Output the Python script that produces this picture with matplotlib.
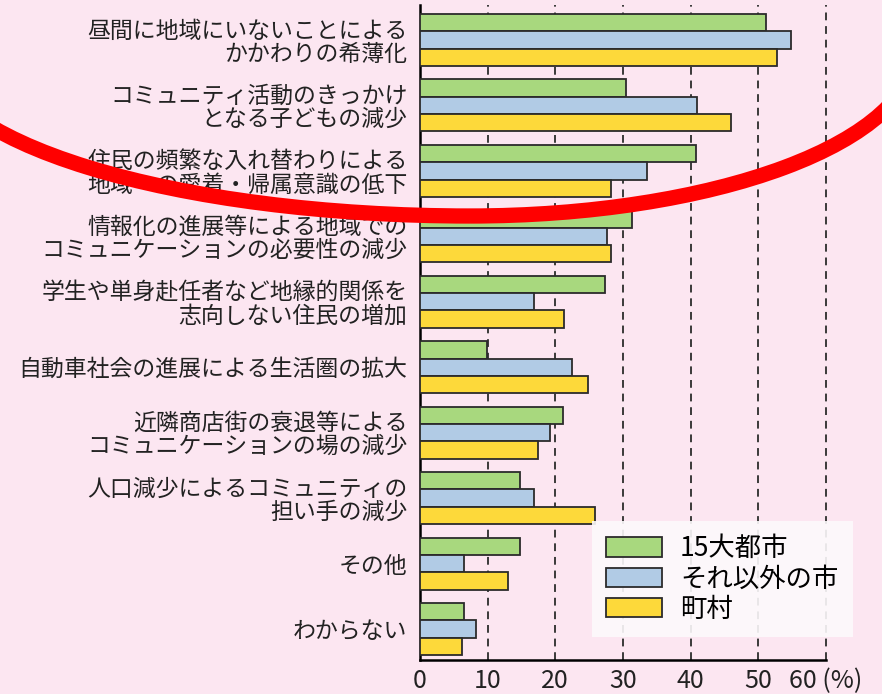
import numpy as np
import matplotlib.pyplot as plt
from matplotlib.patches import Arc

plt.rcParams['font.family'] = ['Noto Sans CJK JP', 'DejaVu Sans']

categories = [
    '昼間に地域にいないことによる\nかかわりの希薄化',
    'コミュニティ活動のきっかけ\nとなる子どもの減少',
    '住民の頻繁な入れ替わりによる\n地域への愛着・帰属意識の低下',
    '情報化の進展等による地域での\nコミュニケーションの必要性の減少',
    '学生や単身赴任者など地縁的関係を\n志向しない住民の増加',
    '自動車社会の進展による生活圏の拡大',
    '近隣商店街の衰退等による\nコミュニケーションの場の減少',
    '人口減少によるコミュニティの\n担い手の減少',
    'その他',
    'わからない',
]
series_names = ['15大都市', 'それ以外の市', '町村']
big15 = [51.1, 30.4, 40.8, 31.4, 27.3, 9.9, 21.1, 14.8, 14.8, 6.5]
other_cities = [54.9, 41.0, 33.5, 27.6, 16.9, 22.4, 19.2, 16.9, 6.5, 8.3]
towns = [52.8, 45.9, 28.3, 28.2, 21.3, 24.8, 17.5, 25.8, 13.0, 6.2]
colors = ['#a8d87e', '#b1cbe5', '#fdd93a']
xticks = [0, 10, 20, 30, 40, 50, 60]
xticklabels = ['0', '10', '20', '30', '40', '50', '60 (%)']

bg = '#fce6f1'
fig = plt.figure(figsize=(8.82, 6.94), dpi=100)
fig.patch.set_facecolor(bg)
ax = fig.add_axes([420 / 882, 34 / 694, 460 / 882, 655 / 694])
ax.set_facecolor(bg)

y = np.arange(len(categories))
h = 0.265
for k, (vals, name, c) in enumerate(zip([big15, other_cities, towns], series_names, colors)):
    ax.barh(y + (k - 1) * h, vals, height=h, color=c, edgecolor='#2b2b2b',
            linewidth=1.3, label=name, zorder=3)

ax.set_xlim(0, 68)
ax.set_ylim(9.474, -0.535)
ax.set_xticks(xticks)
ax.set_xticklabels(xticklabels, fontsize=18)
ax.set_yticks(y)
ax.set_yticklabels(categories, fontsize=16.5)
for lbl in ax.get_yticklabels():
    lbl.set_linespacing(1.0)
ax.tick_params(axis='both', length=0, colors='#222222')
ax.tick_params(axis='x', pad=6)
ax.tick_params(axis='y', pad=9)

ax.grid(axis='x', linestyle=(0, (4, 3)), color='#3a3a3a', linewidth=1.4)
ax.set_axisbelow(True)
for s in ['top', 'right']:
    ax.spines[s].set_visible(False)
ax.spines['left'].set_linewidth(1.8)
ax.spines['bottom'].set_linewidth(1.8)
ax.spines['bottom'].set_bounds(0, 60)

ax.legend(loc='lower right', bbox_to_anchor=(0.941, 0.035), borderaxespad=0,
          fontsize=19, frameon=True, facecolor='#fdfafc', edgecolor='none',
          framealpha=0.9, fancybox=False, handlelength=2.1, handleheight=0.75,
          handletextpad=0.7, labelspacing=0.12, borderpad=0.55)

# 赤い丸囲み
fig.add_artist(Arc((470 / 882, 644 / 694), 1080 / 882, 332 / 694, theta1=90, theta2=270,
                   transform=fig.transFigure, color='#ff0000', lw=11, zorder=10))
fig.add_artist(Arc((470 / 882, 644 / 694), 890 / 882, 332 / 694, theta1=-90, theta2=90,
                   transform=fig.transFigure, color='#ff0000', lw=11, zorder=10))

fig.savefig('out.png', dpi=100, facecolor=bg)
